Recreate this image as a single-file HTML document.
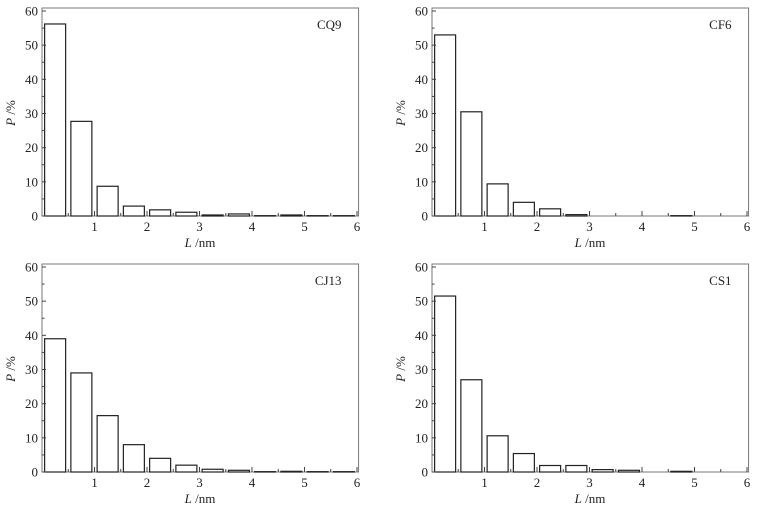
<!DOCTYPE html>
<html><head><meta charset="utf-8">
<style>
html,body{margin:0;padding:0;background:#fff;}
svg{display:block;font-family:"Liberation Serif",serif;}
</style></head>
<body>
<svg id="chart" width="760" height="510" viewBox="0 0 760 510" xmlns="http://www.w3.org/2000/svg"></svg>
<script>
const sampleNames = ["CQ9","CF6","CJ13","CS1"];
const binCenters = [0.25,0.75,1.25,1.75,2.25,2.75,3.25,3.75,4.25,4.75,5.25,5.75];
const valuesCQ9 = [56.2,27.7,8.7,2.9,1.8,1.1,0.3,0.6,0.1,0.3,0.1,0.1];
const valuesCF6 = [53.0,30.5,9.4,4.0,2.1,0.4,0,0,0,0.1,0,0];
const valuesCJ13 = [39.0,29.0,16.5,8.0,4.0,2.0,0.8,0.5,0.1,0.2,0.1,0.1];
const valuesCS1 = [51.5,27.0,10.6,5.4,1.9,1.9,0.7,0.5,0,0.2,0,0];
const yTicks = [0,10,20,30,40,50,60];
const xTicks = [1,2,3,4,5,6];

const NS = "http://www.w3.org/2000/svg";
const svg = document.getElementById('chart');
function mk(tag, attrs, parent){
  const e = document.createElementNS(NS, tag);
  for (const k in attrs) e.setAttribute(k, attrs[k]);
  (parent||svg).appendChild(e);
  return e;
}
const panels = [
  {name:sampleNames[0], vals:valuesCQ9, x0:42, y0:216},
  {name:sampleNames[1], vals:valuesCF6, x0:432, y0:216},
  {name:sampleNames[2], vals:valuesCJ13, x0:42, y0:472},
  {name:sampleNames[3], vals:valuesCS1, x0:432, y0:472}
];
const PXX = 52.5, PXY = 205/60, BW = 0.4;
panels.forEach(p=>{
  const g = mk('g',{});
  
  
  const xs = v => p.x0 + v*PXX;
  const ys = v => p.y0 - v*PXY;
  const top = p.y0 - 208;
  const right = xs(6.03);
  // frame
  const fr = mk('rect',{x:p.x0, y:top, width:right-p.x0, height:208, fill:'none', stroke:'#777', 'stroke-width':1}, g);
  
  
  // bars
  p.vals.forEach((v,i)=>{
    if (v<=0) return;
    const c = binCenters[i];
    const r = mk('rect',{x:xs(c-BW/2), y:ys(v), width:BW*PXX, height:v*PXY, fill:'#fff', stroke:'#222', 'stroke-width':1.2}, g);
    
    
  });
  // y ticks
  yTicks.forEach(t=>{
    mk('line',{x1:p.x0, x2:p.x0+4, y1:ys(t), y2:ys(t), stroke:'#444'}, g);
    if (t<60) mk('line',{x1:p.x0, x2:p.x0+2.5, y1:ys(t+5), y2:ys(t+5), stroke:'#444'}, g);
    const tl = mk('text',{x:p.x0-4, y:ys(t)+4.5, 'font-size':13, 'text-anchor':'end', fill:'#222'}, g);
    tl.textContent = t;
    
    
  });
  // x ticks
  xTicks.forEach(t=>{
    mk('line',{x1:xs(t), x2:xs(t), y1:p.y0, y2:p.y0-5, stroke:'#444'}, g);
    mk('line',{x1:xs(t-0.5), x2:xs(t-0.5), y1:p.y0, y2:p.y0-3, stroke:'#444'}, g);
    const tl = mk('text',{x:xs(t), y:p.y0+15, 'font-size':13, 'text-anchor':'middle', fill:'#222'}, g);
    tl.textContent = t;
    
    
  });
  // axis titles
  const xt = mk('text',{x:p.x0+158, y:p.y0+31, 'font-size':13, 'text-anchor':'middle', fill:'#222'}, g);
  xt.innerHTML = '<tspan font-style="italic">L</tspan> /nm';
  
  
  const yt = mk('text',{x:0, y:0, 'font-size':13, 'text-anchor':'middle', fill:'#222', transform:'translate('+(p.x0-27)+','+(p.y0-103)+') rotate(-90)'}, g);
  yt.innerHTML = '<tspan font-style="italic">P</tspan> /%';
  
  
  const lab = mk('text',{x:right-17, y:top+21, 'font-size':13, 'text-anchor':'end', fill:'#222'}, g);
  lab.textContent = p.name;
  
  
});
</script>
</body></html>
